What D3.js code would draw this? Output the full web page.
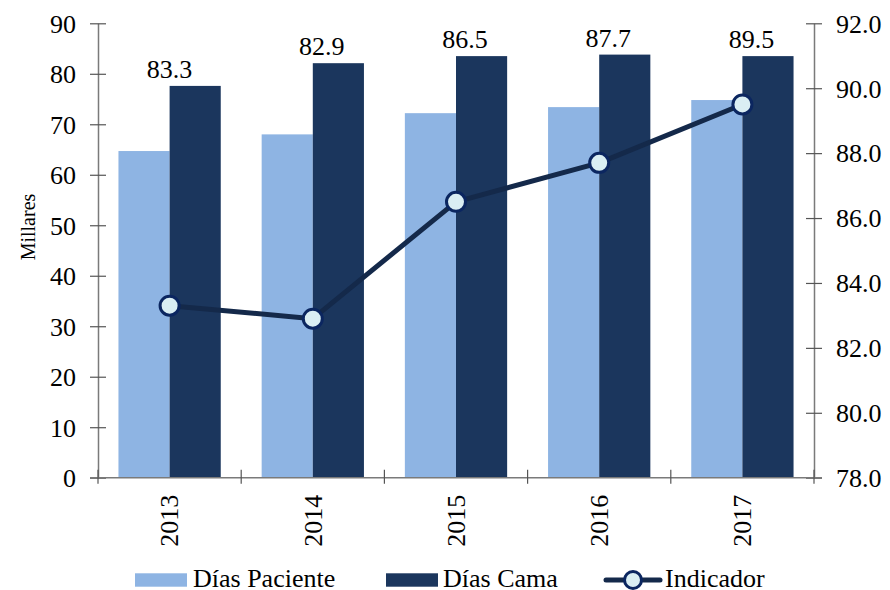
<!DOCTYPE html>
<html>
<head>
<meta charset="utf-8">
<script src="https://cdn.jsdelivr.net/npm/d3@7"></script>
</head>
<body>
<svg id="chart" width="890" height="590"></svg>
<script>
// ---- Data ----
const years = ["2013", "2014", "2015", "2016", "2017"];
const diasPaciente = [64.7, 68.0, 72.2, 73.4, 74.8];   // millares
const diasCama = [77.6, 82.1, 83.5, 83.8, 83.5];      // millares
const indicador = [83.3, 82.9, 86.5, 87.7, 89.5];     // %
const leftTicks = [0, 10, 20, 30, 40, 50, 60, 70, 80, 90];
const rightTicks = [78, 80, 82, 84, 86, 88, 90, 92];
const seriesNames = ["Días Paciente", "Días Cama"];

// ---- Layout ----
d3.select("body").style("margin", "0px");
const svg = d3.select("#chart").attr("font-family", "Liberation Serif");
const X0 = 98, X1 = 814, Y0 = 477.7, Y1 = 23.3;
const colLight = "#8EB4E3", colDark = "#1B365D";
const lineCol = "#14294A", mkStroke = "#0B2660", mkFill = "#DAEEF3";
const axisCol = "#7a7a7a";

const x = d3.scaleBand().domain(years).range([X0, X1]).paddingInner(0).paddingOuter(0);
const xs = d3.scaleBand().domain(seriesNames).range([0, x.bandwidth()]).paddingInner(0).paddingOuter(0.4);
const yL = d3.scaleLinear().domain([0, 90]).range([Y0, Y1]);
const yR = d3.scaleLinear().domain([78, 92]).range([Y0, Y1]);

// Bars
const barData = years.map((yr, i) => ({ yr, vals: [diasPaciente[i], diasCama[i]] }));
const g = svg.append("g");
barData.forEach(d => {
  d.vals.forEach((v, j) => {
    g.append("rect")
      .attr("x", x(d.yr) + xs(seriesNames[j]))
      .attr("y", yL(v))
      .attr("width", xs.bandwidth())
      .attr("height", yL(0) - yL(v))
      .attr("fill", j === 0 ? colLight : colDark);
  });
});

function styleText(sel, size) {
  sel.attr("font-family", "Liberation Serif").attr("font-size", size).style("font-family", '"Liberation Serif"').attr("fill", "#000");
}

// Left axis
const leftAxis = d3.axisLeft(yL).tickValues(leftTicks).tickSize(0).tickPadding(22).tickFormat(d3.format("d"));
const gl = svg.append("g").attr("transform", `translate(${X0},0)`).call(leftAxis);
gl.attr("font-family", "Liberation Serif").attr("font-size", 26);
gl.select(".domain").attr("stroke", axisCol).attr("stroke-width", 1.5);
gl.selectAll(".tick").append("line").attr("x1", -8).attr("x2", 8).attr("stroke", "#555").attr("stroke-width", 1.2);
styleText(gl.selectAll(".tick text").attr("dy", "0.34em"), 26);

// Right axis
const rightAxis = d3.axisRight(yR).tickValues(rightTicks).tickSize(0).tickPadding(22).tickFormat(d3.format(".1f"));
const gr = svg.append("g").attr("transform", `translate(${X1},0)`).call(rightAxis);
gr.attr("font-family", "Liberation Serif").attr("font-size", 26);
gr.select(".domain").attr("stroke", axisCol).attr("stroke-width", 1.5);
gr.selectAll(".tick").append("line").attr("x1", -8).attr("x2", 8).attr("stroke", "#555").attr("stroke-width", 1.2);
styleText(gr.selectAll(".tick text").attr("dy", "0.34em"), 26);

// Bottom axis
const gb = svg.append("g").attr("transform", `translate(0,${Y0})`);
gb.append("line").attr("x1", X0 - 8).attr("x2", X1 + 8).attr("stroke", axisCol).attr("stroke-width", 1.5);
const bounds = years.map(y => x(y)).concat([X1]);
gb.selectAll("line.tk").data(bounds).enter().append("line")
  .attr("class", "tk")
  .attr("x1", d => d).attr("x2", d => d)
  .attr("y1", -8).attr("y2", 6)
  .attr("stroke", "#555").attr("stroke-width", 1.2);
styleText(gb.selectAll("text.yr").data(years).enter().append("text")
  .attr("class", "yr")
  .attr("transform", d => `translate(${x(d) + x.bandwidth() / 2},${17}) rotate(-90)`)
  .attr("text-anchor", "end")
  .attr("dy", "0.34em")
  .text(d => d), 26);

// Y label
styleText(svg.append("text")
  .attr("transform", `translate(35,227) rotate(-90)`)
  .attr("text-anchor", "middle")
  .text("Millares"), 20);

// Line
const cx = d => x(d) + x.bandwidth() / 2;
const line = d3.line().x((d, i) => cx(years[i])).y(d => yR(d));
svg.append("path").datum(indicador)
  .attr("d", line)
  .attr("fill", "none")
  .attr("stroke", lineCol)
  .attr("stroke-width", 5)
  .attr("stroke-linejoin", "round");
svg.selectAll("circle.mk").data(indicador).enter().append("circle")
  .attr("class", "mk")
  .attr("cx", (d, i) => cx(years[i]))
  .attr("cy", d => yR(d))
  .attr("r", 9.5)
  .attr("fill", mkFill)
  .attr("stroke", mkStroke)
  .attr("stroke-width", 3);

// Data labels (above Días Cama bars)
styleText(svg.selectAll("text.lbl").data(indicador).enter().append("text")
  .attr("class", "lbl")
  .attr("x", (d, i) => cx(years[i]) + (i === 0 ? 0 : 9))
  .attr("y", (d, i) => yL(diasCama[i]) - 8)
  .attr("text-anchor", "middle")
  .text(d => d3.format(".1f")(d)), 26);

// Legend
const lg = svg.append("g");
const ly = 580;
lg.append("rect").attr("x", 135).attr("y", ly - 6.7).attr("width", 52).attr("height", 13.4).attr("fill", colLight);
styleText(lg.append("text").attr("x", 193).attr("y", 587).text(seriesNames[0]), 26);
lg.append("rect").attr("x", 386).attr("y", ly - 6.7).attr("width", 52).attr("height", 13.4).attr("fill", colDark);
styleText(lg.append("text").attr("x", 443).attr("y", 587).text(seriesNames[1]), 26);
lg.append("line").attr("x1", 606).attr("x2", 660).attr("y1", ly).attr("y2", ly).attr("stroke", lineCol).attr("stroke-width", 5).attr("stroke-linecap", "round");
lg.append("circle").attr("cx", 633).attr("cy", ly).attr("r", 8.5).attr("fill", mkFill).attr("stroke", mkStroke).attr("stroke-width", 3);
styleText(lg.append("text").attr("x", 665).attr("y", 587).text("Indicador"), 26);
</script>
</body>
</html>
